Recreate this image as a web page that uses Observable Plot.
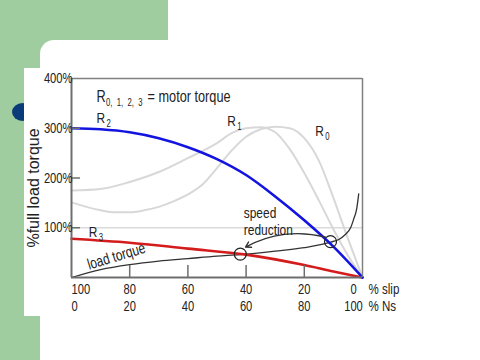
<!DOCTYPE html>
<html><head><meta charset="utf-8">
<script src="https://cdn.jsdelivr.net/npm/d3@7"></script>
<script src="https://cdn.jsdelivr.net/npm/@observablehq/plot@0.6"></script>
<style>
html,body{margin:0;padding:0;background:#fff;width:480px;height:360px;overflow:hidden;position:relative}
.g{position:absolute;background:#a0cd9f}
#card{position:absolute;left:40px;top:40px;width:440px;height:320px;background:#fff;border-top-left-radius:14px}
#bullet{position:absolute;left:12px;top:103px;width:21px;height:18px;border-radius:50%;background:#0b3b78}
#chart{position:absolute;left:24px;top:68px;line-height:0}
</style></head><body>
<div class="g" style="left:0;top:0;width:168px;height:60px"></div>
<div class="g" style="left:0;top:0;width:40px;height:360px"></div>
<div id="card"></div>
<div id="bullet"></div>
<div id="chart"></div>
<script>
// ---- data (x = % slip, y = % full load torque) ----
const slipR2 = [100, 90, 80, 70, 60, 50, 40, 30, 20, 10, 0];
const torqueR2 = [300, 298, 292, 280, 262, 238, 206, 163, 115, 62, 0];

const slipR1 = [100, 90, 80, 70, 60, 50, 45, 40, 35, 30, 25, 20, 15, 10, 5, 0];
const torqueR1 = [175, 178, 192, 212, 240, 270, 290, 300, 302, 292, 258, 210, 155, 97, 44, 0];

const slipR0 = [100, 90, 85, 80, 75, 70, 65, 60, 55, 50, 45, 40, 35, 30, 25, 20, 15, 10, 5, 0];
const torqueR0 = [151, 135, 131, 131, 135, 142, 153, 167, 187, 220, 255, 283, 298, 303, 300, 280, 235, 160, 78, 0];

const slipR3 = [100, 80, 60, 40, 20, 10, 0];
const torqueR3 = [78, 70, 58, 46, 25, 12, 0];

const slipLoad = [100, 90, 80, 70, 60, 50, 42, 30, 20, 11, 8, 6, 4, 3, 2, 1.3];
const torqueLoad = [0, 16, 26, 33, 38, 43, 46, 53, 60, 71, 77, 86, 101, 118, 138, 168];

const circleSlip = [42, 11];
const circleTorque = [47, 72];

const arrowStart = [12.7, 81];   // speed-reduction arrow, from
const arrowEnd = [40.2, 61];     // to

const yTicks = [100, 200, 300, 400];
const yTickMarks = [100, 200, 300];
const xTicks = [100, 80, 60, 40, 20, 0];
const xTickMarks = [80, 60, 40, 20];
const slipLabels = ["100", "80", "60", "40", "20", "0"];
const nsLabels = ["0", "20", "40", "60", "80", "100"];

const titleLabel = {name: "R", sub: "0,  1,  2,  3", rest: "= motor torque", slip: 91.4, t: 352.8};
const curveLabels = [
  {name: "R", sub: "2", slip: 91.4, t: 310.5},
  {name: "R", sub: "1", slip: 46.5, t: 305.5},
  {name: "R", sub: "0", slip: 16.2, t: 285},
  {name: "R", sub: "3", slip: 94.1, t: 82.4}
];
const noteLabels = [
  {text: "speed", slip: 40.8, t: 119.6},
  {text: "reduction", slip: 40.8, t: 86.4}
];
const loadLabel = {text: "load torque", slip: 84.1, t: 33.2};

// ---- build ----
const zip = (xs, ys) => xs.map((x, i) => ({x, y: ys[i]}));
const sans = "'Liberation Sans',Arial,Helvetica,sans-serif";
const axisCol = "#6e6e6e";
const lbl = {x: "slip", y: "t", textAnchor: "start", lineAnchor: "bottom"};

const chart = Plot.plot({
  width: 456, height: 248,
  marginLeft: 47, marginRight: 118, marginTop: 10, marginBottom: 39,
  x: {domain: [100, 0], axis: null},
  y: {domain: [0, 400], axis: null},
  style: {background: "#fff", fontFamily: sans, fontSize: "15px", color: "#222", overflow: "visible"},
  marks: [
    Plot.ruleY([100], {stroke: "#dadada", strokeWidth: 1.5}),
    Plot.line(zip(slipR0, torqueR0), {x: "x", y: "y", curve: "monotone-x", stroke: "#d8d8d8", strokeWidth: 2}),
    Plot.line(zip(slipR1, torqueR1), {x: "x", y: "y", curve: "monotone-x", stroke: "#d8d8d8", strokeWidth: 2}),
    Plot.line(zip(slipLoad, torqueLoad), {x: "x", y: "y", curve: "monotone-x", stroke: "#333", strokeWidth: 1.3}),
    Plot.line(zip(slipR3, torqueR3), {x: "x", y: "y", curve: "monotone-x", stroke: "#d41c1c", strokeWidth: 2.6}),
    Plot.line(zip(slipR2, torqueR2), {x: "x", y: "y", curve: "monotone-x", stroke: "#1414e0", strokeWidth: 2.6}),
    Plot.arrow([{x1: arrowStart[0], y1: arrowStart[1], x2: arrowEnd[0], y2: arrowEnd[1]}],
      {x1: "x1", y1: "y1", x2: "x2", y2: "y2", bend: -22, stroke: "#333", strokeWidth: 1.3, headLength: 7}),
    Plot.dot(zip(circleSlip, circleTorque), {x: "x", y: "y", r: 6, stroke: "#222", fill: "none", strokeWidth: 1.2}),
    // frame
    Plot.ruleY([400], {stroke: "#808080", strokeWidth: 1.5}),
    Plot.ruleX([0], {stroke: "#808080", strokeWidth: 1.5}),
    Plot.ruleX([100], {stroke: axisCol, strokeWidth: 2}),
    Plot.ruleY([0], {stroke: axisCol, strokeWidth: 2}),
    // ticks
    Plot.ruleY(yTickMarks, {y: d => d, x1: 100, x2: 96.9, stroke: axisCol, strokeWidth: 1.5}),
    Plot.ruleX(xTickMarks, {x: d => d, y1: 0, y2: 24, stroke: axisCol, strokeWidth: 1.5}),
    // y tick labels
    Plot.text(yTicks, {y: d => d, frameAnchor: "left", textAnchor: "end", dx: 1, text: d => d + "%", fontSize: 14.5}),
    // x tick labels (two rows)
    Plot.text(xTicks.slice(0, 1), {x: d => d, frameAnchor: "bottom", textAnchor: "start", lineAnchor: "bottom", dy: 16, text: () => slipLabels[0], fontSize: 14.5}),
    Plot.text(xTicks.slice(1, 5), {x: d => d, frameAnchor: "bottom", textAnchor: "middle", lineAnchor: "bottom", dy: 16, text: (d, i) => slipLabels[i + 1], fontSize: 14.5}),
    Plot.text(xTicks.slice(5), {x: d => d, frameAnchor: "bottom", textAnchor: "middle", lineAnchor: "bottom", dy: 16, dx: -9, text: () => slipLabels[5], fontSize: 14.5}),
    Plot.text(xTicks.slice(0, 1), {x: d => d, frameAnchor: "bottom", textAnchor: "start", lineAnchor: "bottom", dy: 33, text: () => nsLabels[0], fontSize: 14.5}),
    Plot.text(xTicks.slice(1, 5), {x: d => d, frameAnchor: "bottom", textAnchor: "middle", lineAnchor: "bottom", dy: 33, text: (d, i) => nsLabels[i + 1], fontSize: 14.5}),
    Plot.text(xTicks.slice(5), {x: d => d, frameAnchor: "bottom", textAnchor: "middle", lineAnchor: "bottom", dy: 33, dx: -9, text: () => nsLabels[5], fontSize: 14.5}),
    Plot.text(["% slip"], {frameAnchor: "bottom-right", textAnchor: "start", lineAnchor: "bottom", dx: 6, dy: 16, fontSize: 15}),
    Plot.text(["% Ns"], {frameAnchor: "bottom-right", textAnchor: "start", lineAnchor: "bottom", dx: 6, dy: 33, fontSize: 15}),
    // axis title (not squeezed)
    Plot.text(["%full load torque"], {frameAnchor: "left", textAnchor: "middle", rotate: -90, dx: -38, dy: 10, fontSize: 16, className: "ytitle"}),
    // annotations
    Plot.text([titleLabel], {...lbl, text: "name", fontSize: 16.5}),
    Plot.text([titleLabel], {...lbl, text: "sub", dx: 9.5, dy: 4, fontSize: 10}),
    Plot.text([titleLabel], {...lbl, text: "rest", dx: 51, fontSize: 16.5}),
    Plot.text(curveLabels, {...lbl, text: "name", fontSize: 15.5}),
    Plot.text(curveLabels, {...lbl, text: "sub", dx: 10, dy: 4, fontSize: 10}),
    Plot.text(noteLabels, {...lbl, text: "text", fontSize: 15.5}),
    Plot.text([loadLabel], {x: "slip", y: "t", text: "text", textAnchor: "middle", lineAnchor: "bottom", rotate: -17, fontSize: 15.5})
  ]
});

document.getElementById("chart").appendChild(chart);

// the reference lettering is horizontally compressed: squeeze glyphs
chart.querySelectorAll("text").forEach(t => {
  if (t.closest(".ytitle")) return;
  const len = t.getComputedTextLength();
  if (len > 0) {
    t.setAttribute("textLength", (len * 0.77).toFixed(1));
    t.setAttribute("lengthAdjust", "spacingAndGlyphs");
  }
});
</script>
</body></html>
